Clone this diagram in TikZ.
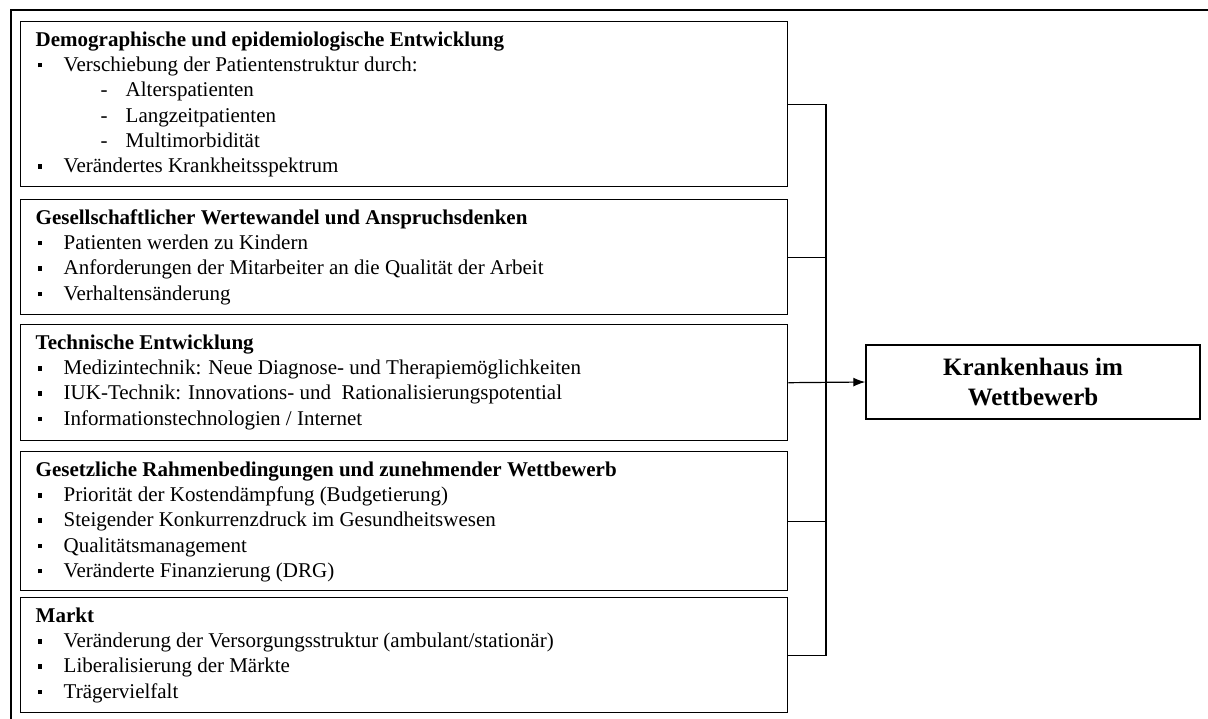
\documentclass[tikz,border=0pt]{standalone}
\usepackage{fontspec}
\setmainfont{Liberation Serif}
\usetikzlibrary{arrows.meta}

\newcommand{\bul}{\makebox[28pt][l]{\hspace{2pt}\raisebox{4pt}{\rule{4.5pt}{4.5pt}}}}
\newcommand{\strich}{\hspace*{65pt}\makebox[25pt][l]{-}}
\newcommand{\kopf}[1]{\rule{0pt}{24.5pt}\textbf{#1}}
\newcommand{\feldtext}[2]{\parbox[c][#1][t]{737pt}{\fontsize{21}{25.3}\selectfont #2}}

\tikzset{
  feld/.style={draw, line width=1.4pt, anchor=north west, inner sep=0pt, minimum width=767pt},
  ziel/.style={draw, line width=1.4pt, align=center, minimum width=334pt, minimum height=74pt,
    font=\bfseries\fontsize{25}{30}\selectfont},
  verb/.style={line width=1.2pt},
}

\begin{document}
\begin{tikzpicture}[x=1pt,y=-1pt]
    \useasboundingbox (0,0) rectangle (1208,719);
    \draw[line width=2pt] (11,719) -- (11,10) -- (1208,10);

    \node[feld] (demo) at (20,21) {\feldtext{165pt}{%
      \kopf{Demographische und epidemiologische Entwicklung}\\
      \bul Verschiebung der Patientenstruktur durch:\\
      \strich Alterspatienten\\
      \strich Langzeitpatienten\\
      \strich Multimorbidität\\
      \bul Verändertes Krankheitsspektrum}};
    \node[feld] (gesell) at (20,199) {\feldtext{115pt}{%
      \kopf{Gesellschaftlicher Wertewandel und Anspruchsdenken}\\
      \bul Patienten werden zu Kindern\\
      \bul Anforderungen der Mitarbeiter an die Qualität der Arbeit\\
      \bul Verhaltensänderung}};
    \node[feld] (technik) at (20,324) {\feldtext{116pt}{%
      \kopf{Technische Entwicklung}\\
      \bul Medizintechnik: Neue Diagnose- und Therapiemöglichkeiten\\
      \bul IUK-Technik: Innovations- und\ \ Rationalisierungspotential\\
      \bul Informationstechnologien / Internet}};
    \node[feld] (gesetz) at (20,451) {\feldtext{139pt}{%
      \kopf{Gesetzliche Rahmenbedingungen und zunehmender Wettbewerb}\\
      \bul Priorität der Kostendämpfung (Budgetierung)\\
      \bul Steigender Konkurrenzdruck im Gesundheitswesen\\
      \bul Qualitätsmanagement\\
      \bul Veränderte Finanzierung (DRG)}};
    \node[feld] (markt) at (20,597) {\feldtext{115pt}{%
      \kopf{Markt}\\
      \bul Veränderung der Versorgungsstruktur (ambulant/stationär)\\
      \bul Liberalisierung der Märkte\\
      \bul Trägervielfalt}};

    \node[ziel] (ziel) at (1033,382) {Krankenhaus im\\Wettbewerb};

    \coordinate (bus) at (826,0);
    \draw[verb] (demo.east) -- (demo.east -| bus) -- (markt.east -| bus) -- (markt.east);
    \draw[verb] (gesell.east) -- (gesell.east -| bus);
    \draw[verb] (gesetz.east) -- (gesetz.east -| bus);
    \draw[verb, -{Latex[length=12pt,width=9pt]}] (technik.east) -- (ziel.west);
\end{tikzpicture}
\end{document}
